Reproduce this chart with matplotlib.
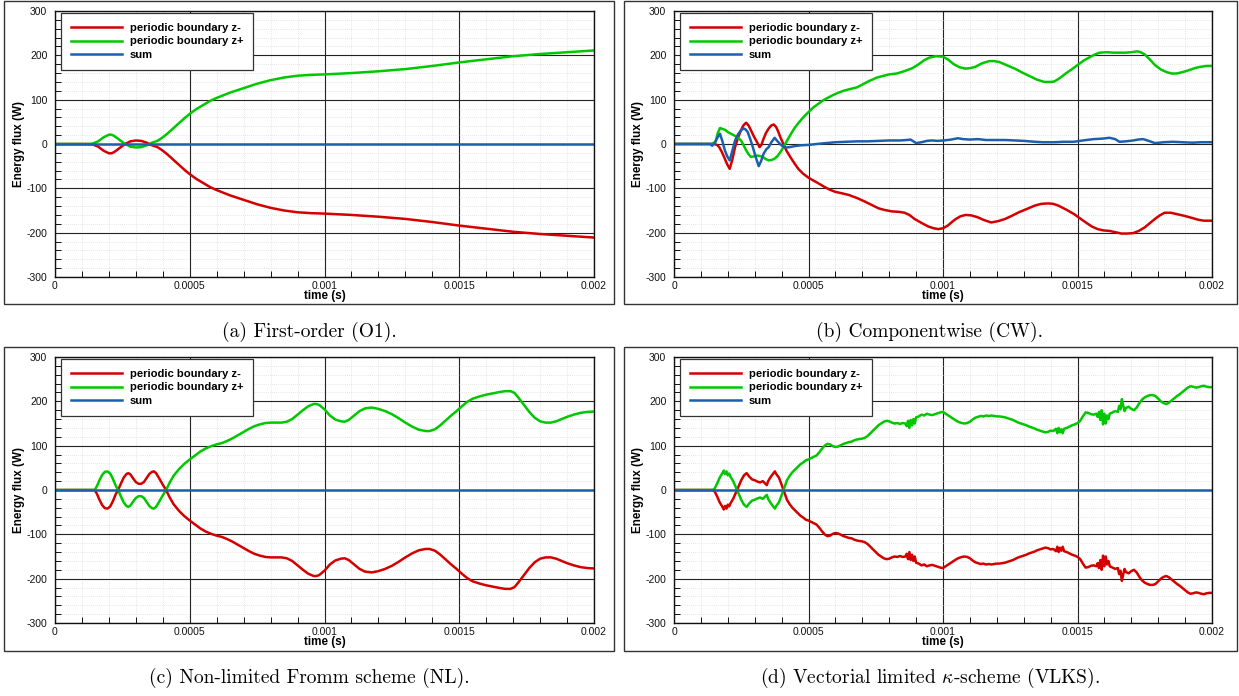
import matplotlib
matplotlib.use('Agg')
import numpy as np
import matplotlib.pyplot as plt
from matplotlib.patches import Rectangle

plt.rcParams['font.family'] = ['Liberation Sans', 'DejaVu Sans']
plt.rcParams['axes.unicode_minus'] = False
plt.rcParams['mathtext.fontset'] = 'cm'

# times are in microseconds, fluxes in W
# (a) first order: z- is the mirror image of z+
t_a = [0, 100, 130, 140, 160, 180, 200, 210, 220, 240, 260, 280, 300, 320, 340, 360, 380, 400, 420, 440,
       460, 480, 500, 525, 550, 575, 600, 650, 700, 750, 800, 850, 900, 950, 1000, 1100, 1200, 1300, 1400, 1500,
       1600, 1700, 1800, 1900, 2000]
zp_a = [0, 0, 0, 1, 6, 15, 21, 21, 18, 9, 0, -6, -8, -7, -3, 3, 7, 15, 25, 36,
        47, 58, 68, 79, 88, 97, 104, 116, 126, 136, 144, 150, 154, 156, 157, 160, 164, 169, 176, 184,
        191, 198, 203, 207, 211]

# (b) componentwise
t_b_p = [0, 139, 154, 163, 171, 180, 190, 200, 212, 222, 234, 249, 258, 268, 277, 286, 297, 308, 319, 330,
         341, 352, 363, 374, 385, 396, 407, 418, 432, 447, 462, 476, 488, 500, 517, 535, 553, 571, 590, 608,
         630, 655, 681, 700, 725, 755, 780, 800, 828, 855, 886, 910, 930, 950, 974, 1000, 1020, 1040, 1062, 1084,
         1100, 1120, 1145, 1172, 1190, 1209, 1240, 1267, 1295, 1326, 1350, 1377, 1400, 1414, 1435, 1456, 1480, 1500, 1525, 1546,
         1565, 1582, 1610, 1634, 1660, 1678, 1700, 1722, 1735, 1750, 1770, 1788, 1810, 1832, 1850, 1868, 1890, 1912, 1935, 1956,
         1980, 2000]
zp_b = [0, 0, 5, 25, 36, 34, 32, 27, 23, 20, 16, 8, -2, -14, -23, -29, -28, -26, -27, -29,
        -34, -37, -36, -33, -27, -18, -7, 5, 20, 35, 47, 57, 65, 72, 82, 90, 98, 104, 110, 115,
        120, 124, 128, 134, 142, 150, 154, 157, 159, 164, 171, 180, 189, 195, 198, 197, 190, 180, 173, 170,
        171, 174, 182, 187, 187, 185, 177, 170, 161, 152, 145, 140, 140, 141, 149, 159, 169, 178, 189, 196,
        202, 206, 207, 206, 206, 206, 207, 209, 207, 202, 190, 178, 168, 162, 159, 159, 162, 166, 171, 174,
        176, 176]
t_b_m = [0, 150, 160, 168, 177, 186, 197, 207, 217, 227, 238, 249, 258, 268, 277, 286, 297, 308, 318, 325,
         333, 342, 352, 362, 371, 380, 388, 397, 406, 418, 432, 447, 462, 480, 500, 517, 535, 557, 579, 600,
         623, 650, 681, 710, 740, 760, 784, 810, 835, 857, 875, 894, 920, 945, 965, 982, 1000, 1018, 1033, 1048,
         1065, 1084, 1105, 1128, 1150, 1179, 1205, 1231, 1256, 1282, 1310, 1341, 1365, 1392, 1410, 1429, 1458, 1487, 1510, 1531,
         1553, 1575, 1597, 1619, 1641, 1663, 1685, 1707, 1728, 1750, 1770, 1788, 1806, 1824, 1846, 1868, 1897, 1927, 1950, 1970,
         2000]
zm_b = [0, 0, -2, -7, -17, -29, -45, -56, -35, -7, 14, 31, 42, 48, 42, 31, 17, 5, -7, -2,
        12, 25, 35, 42, 44, 38, 27, 13, 1, -15, -29, -43, -56, -67, -76, -82, -88, -96, -103, -108,
        -111, -115, -122, -130, -139, -145, -149, -152, -153, -155, -160, -169, -178, -186, -190, -192, -190, -184, -176, -169,
        -163, -160, -161, -165, -171, -177, -174, -169, -162, -154, -147, -139, -135, -134, -135, -139, -148, -158, -168, -177,
        -186, -192, -195, -196, -199, -202, -202, -201, -196, -188, -178, -169, -161, -155, -155, -158, -162, -167, -171, -173,
        -173]
t_b_s = [0, 135, 142, 148, 154, 162, 171, 180, 189, 198, 207, 217, 227, 238, 249, 259, 266, 274, 283, 293,
         304, 315, 324, 333, 343, 352, 362, 374, 385, 396, 406, 415, 430, 447, 470, 500, 530, 564, 600, 640,
         681, 720, 760, 800, 840, 865, 879, 890, 900, 920, 940, 959, 980, 1003, 1030, 1055, 1075, 1100, 1130, 1160,
         1200, 1230, 1267, 1300, 1341, 1370, 1414, 1450, 1487, 1520, 1560, 1590, 1619, 1640, 1656, 1680, 1707, 1725, 1744, 1765,
         1788, 1820, 1854, 1890, 1927, 1960, 2000]
sum_b = [0, 0, -4, 0, 5, 15, 23, 6, -14, -28, -37, -15, 8, 22, 31, 35, 33, 27, 12, -7,
         -30, -50, -38, -22, -12, -7, 4, 14, 6, -1, -6, -8, -7, -5, -3, -2, 0, 2, 4, 5,
         6, 6, 7, 8, 8, 9, 10, 6, 2, 4, 7, 8, 7, 8, 10, 13, 11, 10, 11, 9,
         9, 9, 8, 7, 5, 4, 4, 5, 5, 8, 11, 12, 14, 11, 5, 6, 8, 10, 11, 7,
         2, 4, 5, 4, 3, 4, 4]

# (c) non-limited Fromm: z- mirrors z+
t_c = [0, 140, 147, 155, 165, 175, 185, 195, 205, 215, 225, 234, 245, 255, 265, 272, 280, 290, 300, 310,
       320, 330, 340, 350, 360, 367, 375, 385, 400, 412, 425, 440, 460, 480, 500, 520, 540, 560, 580, 600,
       620, 640, 660, 680, 700, 720, 740, 760, 780, 800, 820, 840, 860, 880, 900, 920, 940, 960, 970, 980,
       1000, 1020, 1040, 1060, 1075, 1090, 1110, 1130, 1150, 1175, 1200, 1225, 1250, 1275, 1300, 1325, 1350, 1375, 1390, 1410,
       1430, 1450, 1470, 1490, 1510, 1530, 1550, 1575, 1600, 1625, 1650, 1670, 1690, 1705, 1720, 1740, 1760, 1780, 1800, 1820,
       1840, 1860, 1880, 1900, 1925, 1950, 1975, 2000]
zp_c = [0, 0, 0, 8, 22, 34, 41, 42, 37, 25, 10, 0, -15, -28, -36, -38, -35, -26, -18, -14,
        -14, -18, -27, -36, -41, -42, -38, -28, -12, 0, 16, 32, 47, 59, 69, 78, 87, 94, 99, 103,
        106, 111, 117, 124, 131, 138, 144, 148, 151, 152, 152, 152, 154, 160, 170, 180, 189, 194, 194, 192,
        182, 168, 159, 155, 154, 158, 168, 178, 184, 186, 183, 178, 171, 162, 152, 143, 136, 133, 133, 137,
        146, 157, 168, 178, 189, 199, 206, 211, 215, 218, 221, 223, 223, 219, 208, 192, 176, 163, 155, 152,
        152, 155, 160, 165, 170, 174, 176, 177]

# (d) vectorial limited kappa-scheme: z- mirrors z+
t_d = [0, 140, 150, 160, 170, 180, 185, 190, 195, 200, 205, 210, 220, 230, 240, 250, 260, 270, 280, 290,
       300, 310, 320, 330, 340, 345, 350, 360, 370, 375, 380, 390, 400, 410, 420, 430, 440, 450, 460, 470,
       480, 490, 500, 510, 520, 530, 540, 550, 560, 570, 580, 590, 600, 610, 620, 630, 640, 650, 660, 670,
       680, 690, 700, 710, 720, 730, 740, 750, 760, 770, 780, 790, 800, 810, 820, 830, 840, 850, 860, 865,
       870, 875, 880, 885, 890, 895, 900, 910, 920, 930, 940, 950, 960, 970, 980, 990, 1000, 1010, 1020, 1030,
       1040, 1050, 1060, 1070, 1080, 1090, 1100, 1110, 1120, 1130, 1140, 1150, 1160, 1170, 1180, 1190, 1200, 1210, 1220, 1230,
       1240, 1250, 1260, 1270, 1280, 1290, 1300, 1310, 1320, 1330, 1340, 1350, 1360, 1370, 1380, 1390, 1400, 1410, 1420, 1425,
       1430, 1435, 1440, 1445, 1450, 1460, 1470, 1480, 1490, 1500, 1510, 1520, 1530, 1540, 1550, 1560, 1570, 1575, 1580, 1585,
       1590, 1595, 1600, 1605, 1610, 1615, 1620, 1630, 1640, 1650, 1655, 1660, 1665, 1670, 1675, 1680, 1690, 1700, 1710, 1720,
       1730, 1740, 1750, 1760, 1770, 1780, 1790, 1800, 1810, 1820, 1830, 1840, 1850, 1860, 1870, 1880, 1890, 1900, 1910, 1920,
       1930, 1940, 1950, 1960, 1970, 1980, 1990, 2000]
zp_d = [0, 0, 2, 14, 28, 38, 44, 36, 42, 33, 37, 30, 20, 6, -8, -22, -33, -38, -30, -24,
        -22, -19, -17, -20, -14, -11, -20, -30, -38, -42, -36, -28, -12, 5, 22, 32, 40, 46, 52, 58,
        62, 67, 69, 72, 75, 78, 85, 93, 100, 104, 103, 99, 97, 98, 101, 104, 106, 108, 109, 112,
        114, 115, 116, 118, 122, 128, 134, 140, 146, 150, 154, 156, 155, 152, 150, 151, 149, 151, 150, 144,
        156, 140, 158, 146, 160, 150, 164, 166, 170, 168, 172, 170, 169, 171, 173, 175, 176, 172, 168, 164,
        160, 156, 153, 151, 150, 151, 154, 159, 163, 165, 167, 166, 168, 167, 168, 167, 166, 166, 165, 164,
        162, 160, 158, 155, 152, 150, 148, 146, 143, 141, 139, 136, 134, 132, 130, 131, 134, 133, 138, 128,
        140, 130, 137, 128, 138, 140, 143, 146, 148, 151, 156, 166, 175, 174, 171, 170, 172, 165, 176, 158,
        180, 148, 172, 150, 168, 160, 172, 175, 178, 176, 190, 182, 205, 190, 178, 185, 188, 183, 180, 186,
        196, 204, 209, 212, 214, 214, 212, 206, 200, 196, 194, 197, 202, 207, 212, 216, 221, 226, 231, 234,
        233, 231, 232, 234, 235, 233, 232, 232]

labels = ['periodic boundary z-', 'periodic boundary z+', 'sum']
colors = ['#d40000', '#00c800', '#1c5fae']
captions = ['(a) First-order (O1).', '(b) Componentwise (CW).',
            '(c) Non-limited Fromm scheme (NL).', r'(d) Vectorial limited $\kappa$-scheme (VLKS).']
x_ticks = [0, 0.0005, 0.001, 0.0015, 0.002]
x_tick_labels = ['0', '0.0005', '0.001', '0.0015', '0.002']
y_ticks = [-300, -200, -100, 0, 100, 200, 300]
y_tick_labels = ['-300', '-200', '-100', '0', '100', '200', '300']

W, H = 1239, 696
fig = plt.figure(figsize=(W / 100, H / 100), dpi=100)

# pixel boxes: axes, frame, caption centre
axes_px = [(55, 11, 594, 277), (674, 11, 1212, 277), (55, 357, 594, 623), (674, 357, 1212, 623)]
frame_px = [(4, 1, 614, 304), (624, 1, 1237, 304), (4, 347, 614, 651), (624, 347, 1237, 651)]
cap_px = [(309, 332), (930, 332), (309, 678), (930, 678)]

us = 1e-6
series = [
    [(t_a, [-v for v in zp_a]), (t_a, zp_a), (t_a, [0 for v in zp_a])],
    [(t_b_m, zm_b), (t_b_p, zp_b), (t_b_s, sum_b)],
    [(t_c, [-v for v in zp_c]), (t_c, zp_c), (t_c, [0 for v in zp_c])],
    [(t_d, [-v for v in zp_d]), (t_d, zp_d), (t_d, [0 for v in zp_d])],
]

for i in range(4):
    x0, y0, x1, y1 = axes_px[i]
    ax = fig.add_axes([x0 / W, 1 - y1 / H, (x1 - x0) / W, (y1 - y0) / H])
    for (tt, vv), c, lab in zip(series[i], colors, labels):
        ax.plot(np.array(tt) * us, vv, color=c, lw=1.8, label=lab, solid_joinstyle='round')
    ax.set_xlim(0, 0.002)
    ax.set_ylim(-300, 300)
    ax.set_xticks(x_ticks, x_tick_labels)
    ax.set_yticks(y_ticks, y_tick_labels)
    ax.set_xticks(np.arange(0, 0.00201, 0.0001), minor=True)
    ax.set_yticks(np.arange(-300, 301, 20), minor=True)
    ax.grid(which='major', color='#222222', lw=0.8)
    ax.grid(which='minor', color='#cfcfcf', lw=0.5, ls=(0, (1, 2)))
    ax.tick_params(which='both', direction='in', top=False, right=False, labelsize=7.5, colors='#111111')
    ax.tick_params(which='major', length=0)
    ax.tick_params(which='minor', length=4, width=0.7)
    ax.tick_params(axis='x', pad=3)
    ax.tick_params(axis='y', pad=5.5)
    for sp in ax.spines.values():
        sp.set_linewidth(1.0)
        sp.set_color('#111111')
    ax.set_xlabel('time (s)', fontsize=8.4, fontweight='bold')
    ax.set_ylabel('Energy flux (W)', fontsize=8.4, fontweight='bold')
    ax.xaxis.set_label_coords(0.5, -13 / (y1 - y0))
    ax.yaxis.set_label_coords(-30 / (x1 - x0), 0.5)
    leg = ax.legend(loc='upper left', bbox_to_anchor=(6 / (x1 - x0), 1 - 2 / (y1 - y0)), borderaxespad=0,
                    prop={'weight': 'bold', 'size': 8.1}, handlelength=4.5, handletextpad=0.7,
                    borderpad=0.9, labelspacing=0.3, fancybox=False, edgecolor='#333333', framealpha=1)
    leg.get_frame().set_linewidth(0.9)

    fx0, fy0, fx1, fy1 = frame_px[i]
    fig.add_artist(Rectangle((fx0 / W, 1 - fy1 / H), (fx1 - fx0) / W, (fy1 - fy0) / H,
                             transform=fig.transFigure, fill=False, ec='#333333', lw=1.0))
    cx, cy = cap_px[i]
    fig.text(cx / W, 1 - cy / H, captions[i], ha='center', va='center', fontsize=14, family='cmr10')

fig.savefig('out.png', dpi=100)
